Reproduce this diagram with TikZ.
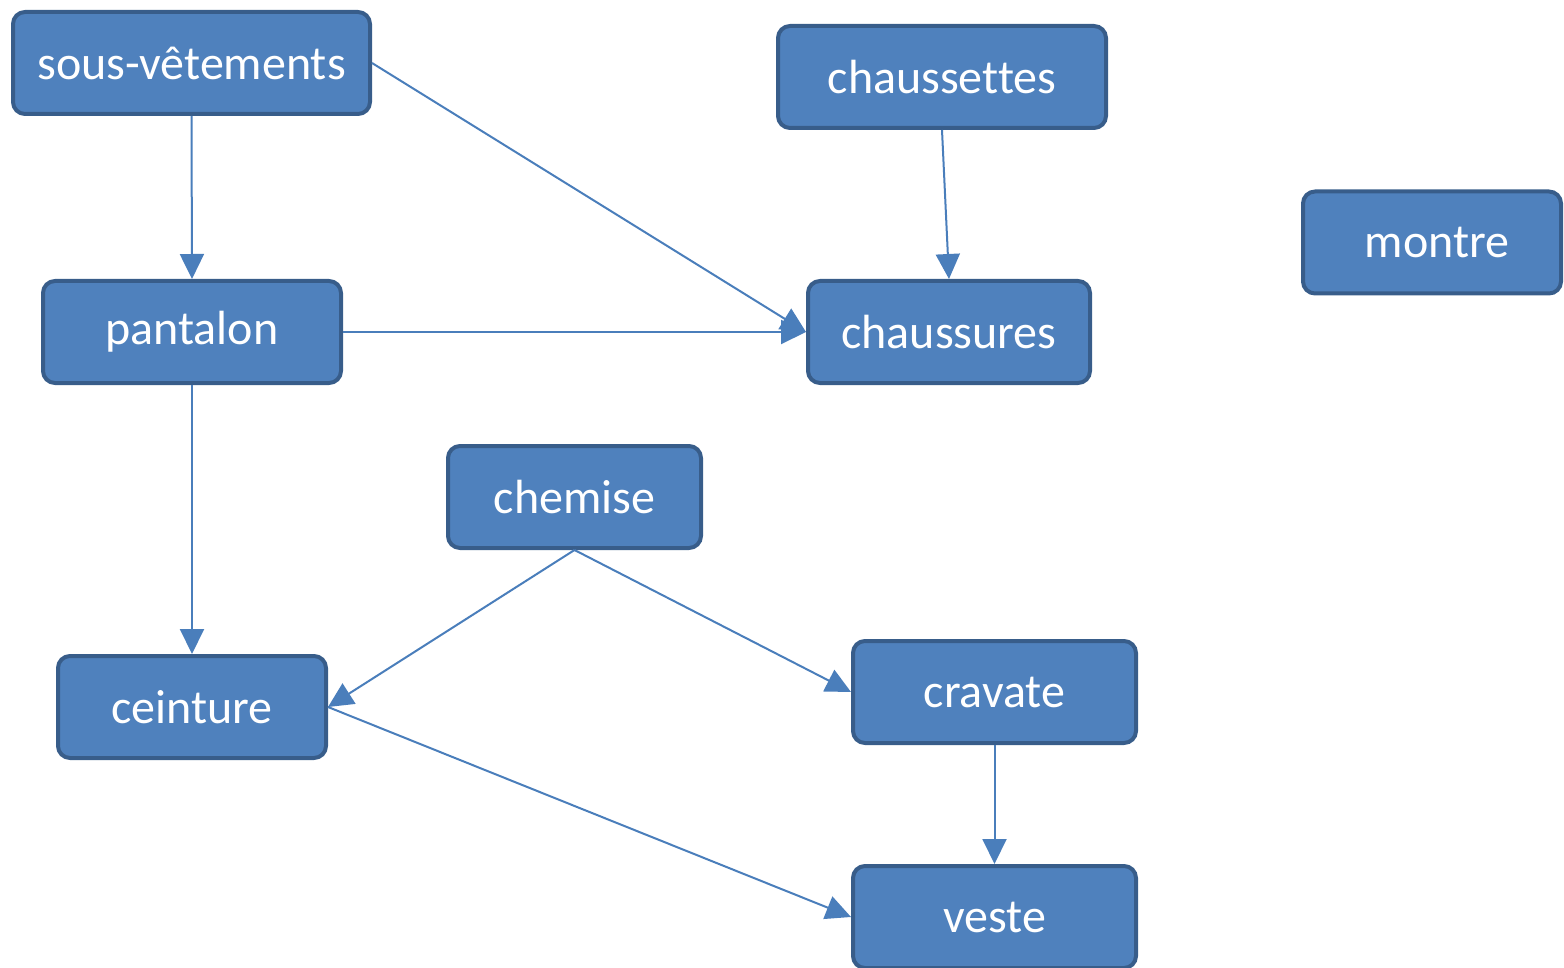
\documentclass[tikz,border=0pt]{standalone}
\usepackage{fontspec}
\setmainfont[Ligatures=NoCommon]{Carlito}
\usetikzlibrary{arrows.meta}
\definecolor{boxfill}{HTML}{4F81BD}
\definecolor{boxline}{HTML}{385D8A}
\definecolor{arrcol}{HTML}{4A7EBB}
\tikzset{
  item/.style={draw=boxline, fill=boxfill, line width=2pt, rounded corners=6pt,
    text=white, font=\fontsize{24}{28}\selectfont, inner sep=0pt, anchor=center},
  link/.style={draw=arrcol, line width=1pt, -{Triangle[length=12.5pt,width=12pt]}},
}
\begin{document}
\begin{tikzpicture}[x=0.5pt,y=-0.5pt]
\useasboundingbox (0,0) rectangle (1564,968);
\clip (0,0) rectangle (1564,968);
\node[item, minimum width=178.5pt, minimum height=51pt] (sv) at (191.5,63) {sous-vêtements};
\node[item, minimum width=164pt, minimum height=51pt] (chs) at (942,77) {chaussettes};
\node[item, minimum width=129pt, minimum height=51pt] (mo) at (1432,242.5) {\hspace*{5pt}montre};
\node[item, minimum width=149pt, minimum height=51pt] (pa) at (192,332) {pantalon};
\node[item, minimum width=141pt, minimum height=51pt] (chu) at (949,332) {chaussures};
\node[item, minimum width=126.5pt, minimum height=51pt] (che) at (574.5,497) {chemise};
\node[item, minimum width=134pt, minimum height=51pt] (ce) at (192,707) {ceinture};
\node[item, minimum width=141.5pt, minimum height=51pt] (cr) at (994.5,692) {cravate};
\node[item, minimum width=141.5pt, minimum height=51pt] (ve) at (994.5,917) {veste};
\draw[link] (sv.south) -- (pa.north);
\draw[link] (sv.east) -- (chu.west);
\draw[link] (chs.south) -- (chu.north);
\draw[link] (pa.east) -- (chu.west);
\draw[link] (pa.south) -- (ce.north);
\draw[link] (che.south) -- (ce.east);
\draw[link] (che.south) -- (cr.west);
\draw[link] (ce.east) -- (ve.west);
\draw[link] (cr.south) -- (ve.north);
\end{tikzpicture}
\end{document}
